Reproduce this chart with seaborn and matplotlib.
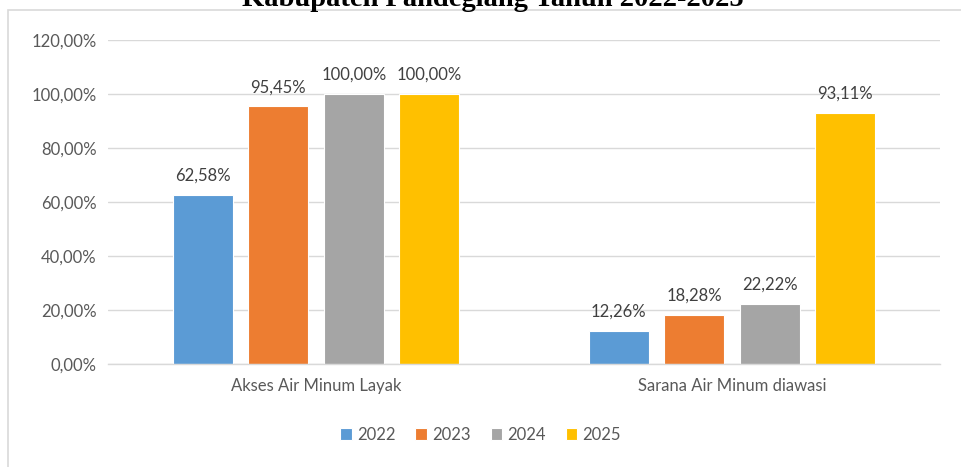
import matplotlib
matplotlib.use("Agg")
import matplotlib.pyplot as plt
import seaborn as sns
import pandas as pd
from matplotlib.patches import Rectangle
from matplotlib.ticker import FuncFormatter

categories = ["Akses Air Minum Layak", "Sarana Air Minum diawasi"]
years = ["2022", "2023", "2024", "2025"]
values_2022 = [62.58, 12.26]
values_2023 = [95.45, 18.28]
values_2024 = [100.00, 22.22]
values_2025 = [100.00, 93.11]
colors = ["#5B9BD5", "#ED7D31", "#A5A5A5", "#FFC000"]
title = "Kabupaten Pandeglang Tahun 2022-2025"

rows = []
for yr, vals in zip(years, [values_2022, values_2023, values_2024, values_2025]):
    for c, v in zip(categories, vals):
        rows.append({"Kategori": c, "Tahun": yr, "Nilai": v})
df = pd.DataFrame(rows)

sns.set_theme(style="white")
plt.rcParams["font.family"] = ["Lato", "DejaVu Sans"]

W, H = 961, 467
fig = plt.figure(figsize=(W / 100, H / 100), dpi=100)
ax = fig.add_axes([108 / W, 103 / H, (940 - 108) / W, (364 - 40) / H])

sns.barplot(data=df, x="Kategori", y="Nilai", hue="Tahun", palette=colors,
            width=0.726, gap=0.21, ax=ax, edgecolor="white", linewidth=0.8,
            saturation=1, legend=True)

ax.set_ylim(0, 120)
ax.set_yticks(range(0, 121, 20))
ax.yaxis.set_major_formatter(FuncFormatter(lambda v, p: f"{v:.2f}%".replace(".", ",")))
ax.grid(axis="y", color="#D9D9D9", linewidth=1)
ax.set_axisbelow(True)
for s in ["top", "right", "left"]:
    ax.spines[s].set_visible(False)
ax.spines["bottom"].set_color("#D9D9D9")
ax.spines["bottom"].set_linewidth(1)
ax.tick_params(axis="both", length=0, labelsize=12, colors="#595959", pad=8)
ax.tick_params(axis="x", pad=10)
ax.set_xlabel("")
ax.set_ylabel("")

for cont in ax.containers:
    labels = [f"{b.get_height():.2f}%".replace(".", ",") for b in cont]
    ax.bar_label(cont, labels=labels, padding=8, fontsize=12, color="#404040")

handles, labs = ax.get_legend_handles_labels()
ax.get_legend().remove()
fig.legend(handles, labs, loc="center", bbox_to_anchor=(0.5, 1 - 435 / H),
           ncol=4, frameon=False, fontsize=12, handlelength=0.7,
           handleheight=0.7, handletextpad=0.3, columnspacing=1.2,
           labelcolor="#595959")

# chart border
fig.patches.append(Rectangle((8 / W, -0.05), 1.2, 1 - 10 / H + 0.05,
                             transform=fig.transFigure, fill=False,
                             edgecolor="#D9D9D9", linewidth=1.2))

fig.text(493 / W, 1 - 6 / H, title, ha="center", va="baseline",
         fontsize=20.5, fontweight="bold", family=["Liberation Serif"], color="black")

fig.savefig("out.png", dpi=100)
